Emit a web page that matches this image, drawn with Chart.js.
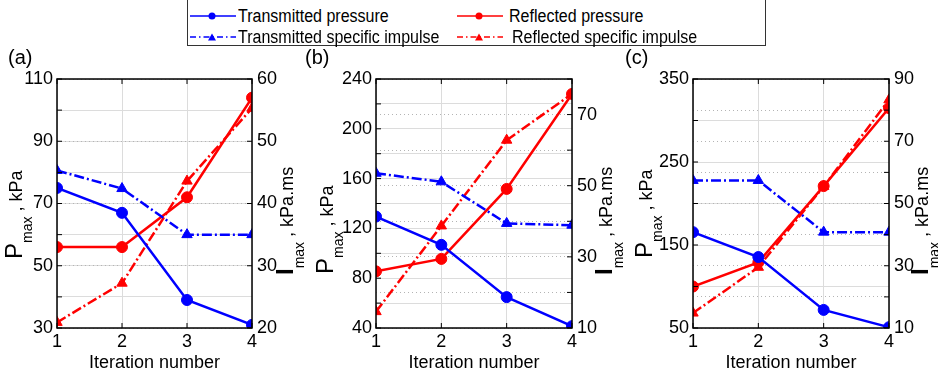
<!DOCTYPE html>
<html>
<head>
<meta charset="utf-8">
<script src="https://cdn.jsdelivr.net/npm/chart.js@4.4.0/dist/chart.umd.min.js"></script>
<style>
  html, body { margin: 0; padding: 0; background: #fff; }
  #page { position: relative; width: 938px; height: 375px; overflow: hidden;
          font-family: "Liberation Sans", Arial, Helvetica, sans-serif; }
  #page canvas { position: absolute; top: 0; }
  #legend { position: absolute; left: 187px; top: -1px; width: 579px; height: 47px;
            border: 1.5px solid #333; background: #fff; z-index: 2; box-sizing: border-box; }
  .item { position: absolute; height: 20px; width: 260px; }
  .item svg { position: absolute; left: 0; top: 0; }
  .item span { position: absolute; top: 0; font-size: 18px; line-height: 20px; white-space: nowrap;
               color: #000; transform: scaleX(0.89); transform-origin: 0 50%; }
</style>
</head>
<body>
<div id="page">
  <canvas id="chartA" width="312" height="375" style="left:0px"></canvas>
  <canvas id="chartB" width="330" height="375" style="left:300px"></canvas>
  <canvas id="chartC" width="320" height="375" style="left:618px"></canvas>
  <div id="legend"></div>
</div>
<script>
var FONT = '"Liberation Sans", Arial, Helvetica, sans-serif';
var BLUE = '#0000ff', RED = '#ff0000';
var DASHDOT = [10, 3, 2, 3];

var iterations = [1, 2, 3, 4];
var seriesNames = ['Transmitted pressure', 'Reflected pressure',
                   'Transmitted specific impulse', 'Reflected specific impulse'];

// (a)
var transPressureA = [75, 67, 39, 31];
var reflPressureA = [56, 56, 72, 104];
var transImpulseA = [45.3, 42.4, 35, 35];
var reflImpulseA = [20.9, 27.2, 43.6, 55.3];
var pressureTicksA = [30, 50, 70, 90, 110];
var impulseTicksA = [20, 30, 40, 50, 60];

// (b)
var transPressureB = [129.5, 106.8, 64.8, 41.5];
var reflPressureB = [85.5, 95.5, 151.7, 228];
var transImpulseB = [53.5, 51.1, 39.4, 38.9];
var reflImpulseB = [14.6, 38.7, 62.8, 75.8];
var pressureTicksB = [40, 80, 120, 160, 200, 240];
var impulseTicksB = [10, 30, 50, 70];

// (c)
var transPressureC = [165.5, 135.5, 71.8, 51];
var reflPressureC = [100, 129, 221, 315];
var transImpulseC = [57.4, 57.4, 40.8, 40.8];
var reflImpulseC = [14.8, 29.5, 55.5, 83.3];
var pressureTicksC = [50, 150, 250, 350];
var impulseTicksC = [10, 30, 50, 70, 90];


// Draws the MATLAB-like frame, inside tick marks and rotated axis titles
var frame = {
    id: 'frame',
    afterDraw: function (chart) {
        var o = chart.options.plugins.frame;
        var ctx = chart.ctx, a = chart.chartArea;
        ctx.save();

        // inside tick marks
        ctx.strokeStyle = '#000';
        ctx.lineWidth = 1;
        ctx.beginPath();
        chart.scales.y.ticks.forEach(function (t) {
            var py = chart.scales.y.getPixelForValue(t.value);
            ctx.moveTo(a.left, py); ctx.lineTo(a.left + 5, py);
        });
        chart.scales.y1.ticks.forEach(function (t) {
            var py = chart.scales.y1.getPixelForValue(t.value);
            ctx.moveTo(a.right, py); ctx.lineTo(a.right - 5, py);
        });
        chart.scales.x.ticks.forEach(function (t) {
            var px = chart.scales.x.getPixelForValue(t.value);
            ctx.moveTo(px, a.bottom); ctx.lineTo(px, a.bottom - 5);
            ctx.moveTo(px, a.top); ctx.lineTo(px, a.top + 5);
        });
        ctx.stroke();

        // box
        ctx.lineWidth = 1.5;
        ctx.strokeRect(a.left, a.top, a.right - a.left, a.bottom - a.top);

        ctx.fillStyle = '#000';
        ctx.textBaseline = 'alphabetic';

        // panel label
        ctx.textAlign = 'left';
        ctx.font = '20px ' + FONT;
        ctx.fillText(o.tag, o.tagX, 64);

        // x title
        ctx.textAlign = 'center';
        ctx.font = '18px ' + FONT;
        ctx.fillText('Iteration number', (a.left + a.right) / 2, 368);

        // y titles
        rotated(ctx, o.leftX, o.leftY, [
            {text: 'P', font: '24px ' + FONT},
            {text: 'max', font: '14px ' + FONT, shift: 10},
            {text: ' , kPa', font: '18px ' + FONT}
        ]);
        rotated(ctx, o.rightX, 275, [
            {text: 'I', font: 'bold 24px ' + FONT},
            {text: 'max', font: '14px ' + FONT, shift: 11},
            {text: ' , kPa.ms', font: '18px ' + FONT}
        ]);
        ctx.restore();
    }
};

function rotated(ctx, x, y, parts) {
    ctx.save();
    ctx.translate(x, y);
    ctx.rotate(-Math.PI / 2);
    ctx.textAlign = 'left';
    var cx = 0;
    parts.forEach(function (p) {
        ctx.font = p.font;
        ctx.fillText(p.text, cx, p.shift || 0);
        cx += ctx.measureText(p.text).width;
    });
    ctx.restore();
}

function series(label, values, color, impulse) {
    return {
        label: label,
        data: values.map(function (v, i) { return {x: iterations[i], y: v}; }),
        yAxisID: impulse ? 'y1' : 'y',
        borderColor: color,
        backgroundColor: color,
        borderWidth: 2.5,
        borderDash: impulse ? DASHDOT : [],
        pointStyle: impulse ? 'triangle' : 'circle',
        pointRadius: impulse ? 6 : 5.5,
        pointBorderWidth: 1,
        tension: 0
    };
}

function tickFont() { return {family: FONT, size: 18}; }

function panel(id, p) {
    new Chart(document.getElementById(id), {
        type: 'line',
        data: {
            datasets: [
                series(seriesNames[0], p.transP, BLUE, false),
                series(seriesNames[2], p.transI, BLUE, true),
                series(seriesNames[1], p.reflP, RED, false),
                series(seriesNames[3], p.reflI, RED, true)
            ]
        },
        options: {
            responsive: false,
            animation: false,
            devicePixelRatio: 1,
            layout: {padding: {top: 79, left: 0, right: 0, bottom: 0}},
            plugins: {
                legend: {display: false},
                tooltip: {enabled: false},
                frame: p.frame
            },
            scales: {
                x: {
                    type: 'linear', min: 1, max: 4,
                    ticks: {stepSize: 1, padding: 3, color: '#000', font: tickFont()},
                    grid: {color: '#dcdcdc', lineWidth: 1, drawTicks: false},
                    border: {display: false},
                    afterFit: function (s) { s.height = 47; s.paddingLeft = 0; s.paddingRight = 0; }
                },
                y: {
                    position: 'left', min: p.pMin, max: p.pMax,
                    ticks: {
                        stepSize: p.pStep, padding: 4, color: '#000', font: tickFont(),
                        callback: function (v) { return p.pTicks.indexOf(v) >= 0 ? String(v) : ''; }
                    },
                    grid: {color: '#dcdcdc', lineWidth: 1, drawTicks: false},
                    border: {display: false},
                    afterFit: function (s) { s.width = p.leftW; s.paddingTop = 0; s.paddingBottom = 0; }
                },
                y1: {
                    position: 'right', min: p.iMin, max: p.iMax,
                    ticks: {
                        stepSize: 10, padding: 5, color: '#000', font: tickFont(),
                        callback: function (v) { return p.iTicks.indexOf(v) >= 0 ? String(v) : ''; }
                    },
                    grid: {color: '#b4b4b4', lineWidth: 1, drawTicks: false},
                    border: {display: false, dash: [1, 3]},
                    afterFit: function (s) { s.width = p.rightW; s.paddingTop = 0; s.paddingBottom = 0; }
                }
            }
        },
        plugins: [frame]
    });
}

panel('chartA', {
    transP: transPressureA, reflP: reflPressureA, transI: transImpulseA, reflI: reflImpulseA,
    pMin: 30, pMax: 110, pStep: 10, pTicks: pressureTicksA,
    iMin: 20, iMax: 60, iTicks: impulseTicksA,
    leftW: 57, rightW: 60,
    frame: {tag: '(a)', tagX: 8, leftX: 22, leftY: 259, rightX: 293}
});
panel('chartB', {
    transP: transPressureB, reflP: reflPressureB, transI: transImpulseB, reflI: reflImpulseB,
    pMin: 40, pMax: 240, pStep: 20, pTicks: pressureTicksB,
    iMin: 10, iMax: 80, iTicks: impulseTicksB,
    leftW: 76, rightW: 58,
    frame: {tag: '(b)', tagX: 5, leftX: 33, leftY: 274, rightX: 312}
});
panel('chartC', {
    transP: transPressureC, reflP: reflPressureC, transI: transImpulseC, reflI: reflImpulseC,
    pMin: 50, pMax: 350, pStep: 50, pTicks: pressureTicksC,
    iMin: 10, iMax: 90, iTicks: impulseTicksC,
    leftW: 75, rightW: 49,
    frame: {tag: '(c)', tagX: 7, leftX: 34, leftY: 258, rightX: 310}
});

// Legend (two columns, line + marker samples); x/tx are relative to the legend box
var legendItems = [
    {name: seriesNames[0], color: BLUE, impulse: false, x: 2, y: 6, tx: 50},
    {name: seriesNames[1], color: RED, impulse: false, x: 269, y: 6, tx: 321},
    {name: seriesNames[2], color: BLUE, impulse: true, x: 2, y: 27, tx: 50},
    {name: seriesNames[3], color: RED, impulse: true, x: 269, y: 27, tx: 324}
];
var legend = document.getElementById('legend');
legendItems.forEach(function (it) {
    var el = document.createElement('div');
    el.className = 'item';
    el.style.left = it.x + 'px';
    el.style.top = it.y + 'px';
    var dash = it.impulse ? ' stroke-dasharray="6,3,1.5,3"' : '';
    var marker = it.impulse
        ? '<polygon points="22,6.5 26,13.5 18,13.5" fill="' + it.color + '"/>'
        : '<circle cx="22" cy="10" r="3.5" fill="' + it.color + '"/>';
    el.innerHTML = '<svg width="48" height="20"><line x1="0" y1="10" x2="46" y2="10" stroke="' +
        it.color + '" stroke-width="1.5"' + dash + '/>' + marker + '</svg>' +
        '<span style="left:' + (it.tx - it.x) + 'px">' + it.name + '</span>';
    legend.appendChild(el);
});
</script>
</body>
</html>
